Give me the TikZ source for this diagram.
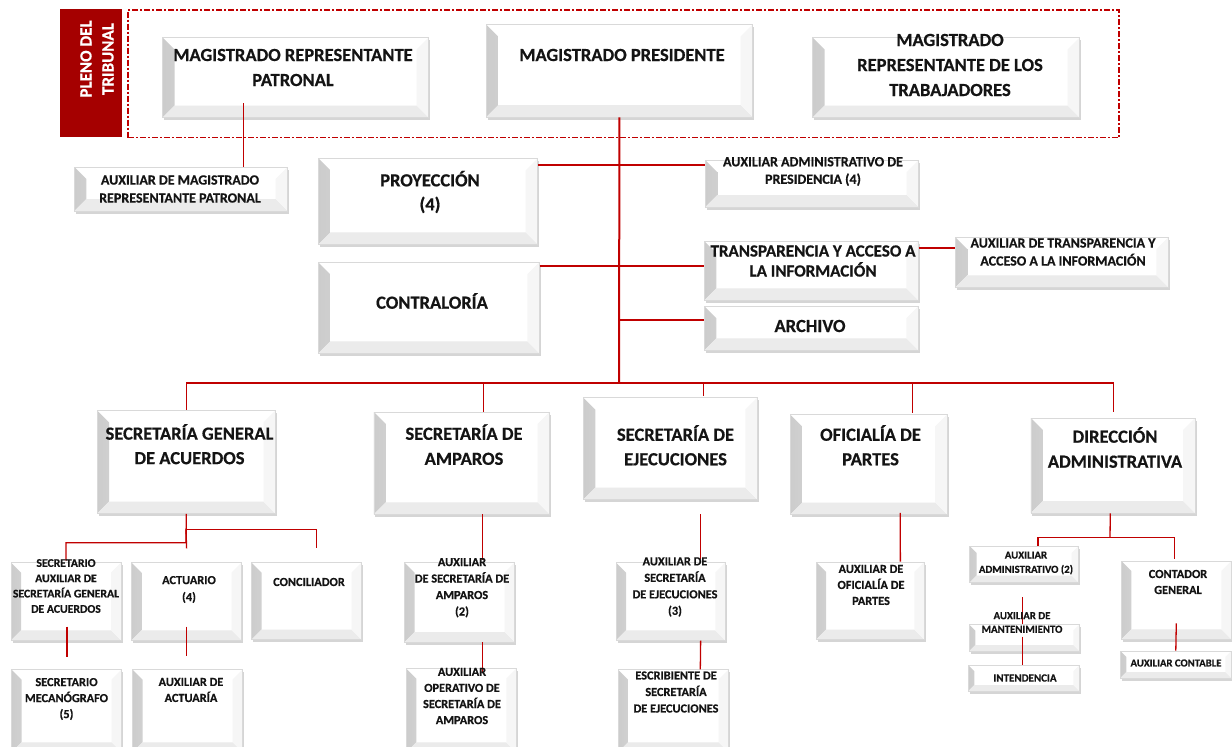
\documentclass[tikz,border=0pt]{standalone}
\usepackage{fontspec}
\setmainfont{Carlito}[BoldFeatures={FakeBold=0.5}]
\usetikzlibrary{shadows}
\definecolor{dred}{RGB}{192,0,0}
\definecolor{plenored}{RGB}{165,0,0}
\definecolor{txtc}{RGB}{20,20,20}
\tikzset{
  x=1pt,y=1pt,
  bev/.store in=\bv, bev=12pt,
  bx/.style={draw=gray!30, line width=0.6pt, fill=white, inner sep=0pt, anchor=north west,
    drop shadow={shadow xshift=1.5pt, shadow yshift=-2.5pt, fill=gray!60, opacity=0.55},
    path picture={
      \fill[left color=gray!40, right color=white]
        (path picture bounding box.south west) -- (path picture bounding box.north west)
        -- ([xshift=\bv,yshift=-\bv]path picture bounding box.north west)
        -- ([xshift=\bv,yshift=\bv]path picture bounding box.south west) -- cycle;
      \fill[gray!16]
        (path picture bounding box.south west) -- ([xshift=\bv,yshift=\bv]path picture bounding box.south west)
        -- ([xshift=-\bv,yshift=\bv]path picture bounding box.south east) -- (path picture bounding box.south east) -- cycle;
      \fill[gray!7]
        (path picture bounding box.south east) -- ([xshift=-\bv,yshift=\bv]path picture bounding box.south east)
        -- ([xshift=-\bv,yshift=-\bv]path picture bounding box.north east) -- (path picture bounding box.north east) -- cycle;
    }},
  tx/.style 2 args={font=\fontsize{#1}{#2}\selectfont\bfseries, align=center, inner sep=0pt, text=txtc},
  ln/.style={draw=dred, line width=1.3pt},
  frm/.style={draw=dred, line width=1.7pt, dash pattern=on 6pt off 2pt on 2pt off 2pt},
}
\newcommand\obox[6][]{\node[bx,#1, minimum width={#5-#3}, minimum height={#6-#4}] (#2) at (#3,-#4) {};}
\begin{document}
\begin{tikzpicture}
\useasboundingbox (0,0) rectangle (1232,-747);
% pleno
\node[fill=plenored, minimum width=62, minimum height=127.7, anchor=north west, inner sep=0pt] (pleno) at (60,-9) {};
\node[frm, minimum width=991.3, minimum height=127.7, anchor=north west, inner sep=0pt] (frame) at (127,-9) {};
% boxes
\obox{mrp}{162.3}{37.3}{428.3}{117.3}
\obox{mp}{486}{24.3}{752.3}{116.7}
\obox{mrt}{812.3}{37.3}{1079.3}{117.3}
\obox{auxm}{74}{166.7}{287.3}{210.7}
\obox{proy}{318.3}{158.3}{537.3}{244}
\obox{aap}{705}{160}{918.3}{206.7}
\obox{transp}{704}{241}{918}{300}
\obox{auxt}{955}{237}{1168}{287}
\obox{contra}{318}{262}{539}{353}
\obox{arch}{704}{306}{918}{350}
\obox{sga}{96.7}{410}{275.3}{513.3}
\obox{sa}{373.5}{411.7}{549.4}{514}
\obox{se}{583}{397.3}{757}{499.3}
\obox{op}{790}{414.3}{946.8}{514.3}
\obox{da}{1030.6}{417.7}{1194.8}{512.7}
\obox[bev=10pt]{secaux}{10.7}{562.3}{120.7}{640}
\obox[bev=10pt]{act}{131.3}{562.3}{241.3}{640}
\obox[bev=10pt]{conc}{251.3}{562.3}{361.3}{639.3}
\obox[bev=10pt]{secmec}{11.3}{669.3}{121.3}{752}
\obox[bev=10pt]{auxact}{132.3}{669.3}{242.3}{752}
\obox[bev=10pt]{auxsa}{404.3}{562.3}{514.3}{641.7}
\obox[bev=10pt]{auxop}{406}{668.3}{516}{752}
\obox[bev=10pt]{auxse}{615.7}{562.3}{725}{640}
\obox[bev=10pt]{escr}{617.7}{669.3}{728.3}{752}
\obox[bev=10pt]{auxp}{815.7}{561.7}{924}{639.3}
\obox[bev=7pt]{auxadm}{969.3}{545.7}{1078.3}{582.3}
\obox[bev=6pt]{mant}{969}{624.3}{1079}{650.7}
\obox[bev=6pt]{intend}{968}{665}{1079}{690.7}
\obox[bev=10pt]{cont}{1121}{560.7}{1231}{639}
\obox[bev=6pt]{auxc}{1120}{650.7}{1231}{677.7}
% connectors
\coordinate (bus) at (619,-383);
\coordinate (mrpA) at (243.7,-103.3);
\draw[ln] (mrpA) -- (auxm.north -| mrpA);
\draw[ln, line width=2pt] (mp.south) -- (bus);
\draw[ln] ([yshift=-6.7pt]proy.north east) -- ([yshift=-5pt]aap.north west);
\draw[ln] ([yshift=-4pt]contra.north east) -- ([yshift=-25pt]transp.north west);
\coordinate (trA) at (619,-320);
\draw[ln] (trA) -- ([yshift=-14pt]arch.north west);
\draw[ln] ([yshift=-7pt]transp.north east) -- ([yshift=-11pt]auxt.north west);
\draw[ln] (bus) -| (sga.north);
\draw[ln] (bus) -| ([xshift=21.5pt]sa.north);
\draw[ln] (bus) -| ([xshift=33pt,yshift=1pt]se.north);
\draw[ln] (bus) -| ([xshift=43.5pt,yshift=1.3pt]op.north);
\draw[ln] (bus) -| ([xshift=0.3pt,yshift=6pt]da.north);
% SGA subtree
\coordinate (sgaJ) at (186,-542.7);
\coordinate (sgaK) at (186,-529.3);
\draw[ln] (sga.south) -- (sgaJ) -| ([yshift=1.6pt]secaux.north);
\draw[ln] (sgaK) -- ([yshift=14pt]act.north);
\draw[ln] (sgaK) -| ([xshift=10pt,yshift=14pt]conc.north);
\draw[ln] ([xshift=1pt,yshift=14pt]secaux.south) -- ([xshift=0.4pt,yshift=12.6pt]secmec.north);
\draw[ln] ([yshift=14pt]act.south) -- ([xshift=-1pt,yshift=13.6pt]auxact.north);
% SA subtree
\coordinate (saX) at (482.3,-514);
\draw[ln] (saX) -- ([yshift=2pt]saX |- auxsa.north);
\draw[ln] ([xshift=23pt]auxsa.south) -- ([xshift=21.3pt,yshift=-3.4pt]auxop.north);
% SE subtree
\coordinate (seA) at (700.7,-514);
\draw[ln] (seA) -- ([yshift=3pt]seA |- auxse.north);
\draw[ln] ([xshift=30pt]auxse.south) -- ([xshift=27pt]escr.north);
% OP subtree
\draw[ln] ([xshift=31.6pt,yshift=2pt]op.south) -- ([xshift=30.2pt]auxp.north);
% DA subtree
\coordinate (daJ) at (1110,-537.7);
\draw[ln] ([xshift=-2.7pt]da.south) -- (daJ);
\draw[ln] (daJ) -| ([xshift=14pt]auxadm.north);
\draw[ln] (daJ) -| ([xshift=-2pt,yshift=1.4pt]cont.north);
\draw[ln] ([xshift=-1.5pt,yshift=-14.4pt]auxadm.south) -- ([xshift=-1.7pt]mant.north);
\draw[ln] ([xshift=-1.7pt,yshift=-12.4pt]mant.north) -- ([xshift=-1.2pt]intend.north);
\draw[ln] ([yshift=16.3pt]cont.south) -- (auxc.north);
% texts
\node[tx={17}{22}, rotate=90, text=white] (tpleno) at (97,-59) {PLENO DEL\\TRIBUNAL};
\node[tx={18.5}{25}] (tmrp) at (293,-67.5) {MAGISTRADO REPRESENTANTE\\PATRONAL};
\node[tx={18.5}{25}] (tmp) at (622,-55) {MAGISTRADO PRESIDENTE};
\node[tx={18.5}{25}] (tmrt) at (950,-65) {MAGISTRADO\\REPRESENTANTE DE LOS\\TRABAJADORES};
\node[tx={14}{18}] (tauxm) at (180,-189) {AUXILIAR DE MAGISTRADO\\REPRESENTANTE PATRONAL};
\node[tx={18.5}{24}] (tproy) at (430,-192) {PROYECCIÓN\\(4)};
\node[tx={14}{17.5}] (taap) at (813,-171.5) {AUXILIAR ADMINISTRATIVO DE\\PRESIDENCIA (4)};
\node[tx={17}{20}] (ttransp) at (813,-261) {TRANSPARENCIA Y ACCESO A\\LA INFORMACIÓN};
\node[tx={14}{18}] (tauxt) at (1063,-252) {AUXILIAR DE TRANSPARENCIA Y\\ACCESO A LA INFORMACIÓN};
\node[tx={18.5}{25}] (tcontra) at (432,-301) {CONTRALORÍA};
\node[tx={18.5}{25}] (tarch) at (810,-326) {ARCHIVO};
\node[tx={18.5}{24.5}] (tsga) at (189.5,-444.2) {SECRETARÍA GENERAL\\DE ACUERDOS};
\node[tx={18.5}{25}] (tsa) at (464,-444.6) {SECRETARÍA DE\\AMPAROS};
\node[tx={18.5}{24.5}] (tse) at (675.5,-445.3) {SECRETARÍA DE\\EJECUCIONES};
\node[tx={18.5}{24.5}] (top) at (870.5,-445.3) {OFICIALÍA DE\\PARTES};
\node[tx={18.5}{25}] (tda) at (1115,-447.5) {DIRECCIÓN\\ADMINISTRATIVA};
\node[tx={11.7}{15.3}] (tsecaux) at (66,-586) {SECRETARIO\\AUXILIAR DE\\SECRETARÍA GENERAL\\DE ACUERDOS};
\node[tx={12.3}{17}] (tact) at (189,-589.5) {ACTUARIO\\(4)};
\node[tx={12.3}{16}] (tconc) at (309,-582) {CONCILIADOR};
\node[tx={12.3}{16}] (tsecmec) at (66.5,-699) {SECRETARIO\\MECANÓGRAFO\\(5)};
\node[tx={12.3}{16}] (tauxact) at (191,-690) {AUXILIAR DE\\ACTUARÍA};
\node[tx={12.3}{16.5}] (tauxsa) at (462,-587.7) {AUXILIAR\\DE SECRETARÍA DE\\AMPAROS\\(2)};
\node[tx={12.3}{16.1}] (tauxop) at (462,-696) {AUXILIAR\\OPERATIVO DE\\SECRETARÍA DE\\AMPAROS};
\node[tx={12.3}{16.5}] (tauxse) at (675,-587) {AUXILIAR DE\\SECRETARÍA\\DE EJECUCIONES\\(3)};
\node[tx={12.3}{16.5}] (tescr) at (676,-692) {ESCRIBIENTE DE\\SECRETARÍA\\DE EJECUCIONES};
\node[tx={12.3}{16}] (tauxp) at (871,-585) {AUXILIAR DE\\OFICIALÍA DE\\PARTES};
\node[tx={10.8}{14.3}] (tauxadm) at (1026,-563) {AUXILIAR\\ADMINISTRATIVO (2)};
\node[tx={10.8}{13.6}] (tmant) at (1022,-622.5) {AUXILIAR DE\\MANTENIMIENTO};
\node[tx={11}{14}] (tintend) at (1025,-678) {INTENDENCIA};
\node[tx={12.3}{16}] (tcont) at (1178,-582) {CONTADOR\\GENERAL};
\node[tx={10.7}{14}] (tauxc) at (1176,-663) {AUXILIAR CONTABLE};
\end{tikzpicture}
\end{document}
